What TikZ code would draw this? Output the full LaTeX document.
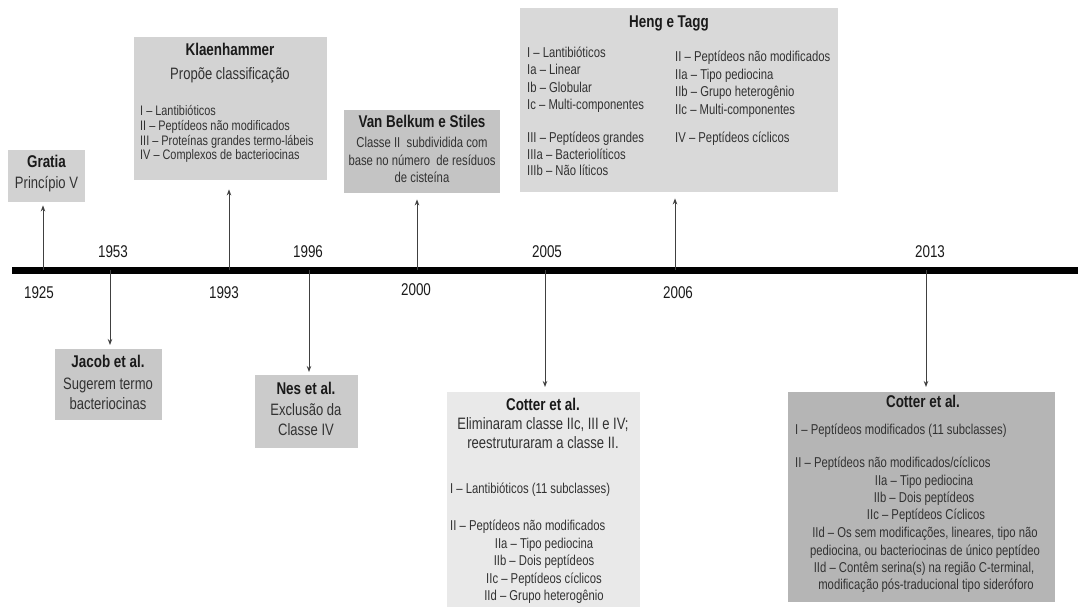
\documentclass[tikz,border=0pt]{standalone}
\usepackage{fontspec}
\setmainfont[FakeStretch=0.79]{Liberation Sans}
\usetikzlibrary{arrows.meta}
\newcommand\fitm{\fontsize{14.3}{16}\selectfont}
\newcommand\fitk{\fontsize{13.8}{15}\selectfont}
\newcommand\fttl{\fontsize{17}{18}\selectfont\bfseries}
\newcommand\fsub{\fontsize{16.5}{18}\selectfont}
\newcommand\fyr{\fontsize{17}{18}\selectfont}
\definecolor{itc}{HTML}{323232}
\definecolor{ttc}{HTML}{1A1A1A}
\definecolor{arc}{HTML}{404040}
\tikzset{
  box/.style={draw=none, inner sep=0, anchor=north west},
  itm/.style={font=\fitm, text=itc, inner sep=0, anchor=mid west},
  itmc/.style={font=\fitm, text=itc, inner sep=0, anchor=mid},
  itk/.style={font=\fitk, text=itc, inner sep=0, anchor=mid west},
  ttl/.style={font=\fttl, text=ttc, inner sep=0, anchor=mid},
  sub/.style={font=\fsub, text=itc, inner sep=0, anchor=mid},
  yr/.style={font=\fyr, text=ttc, inner sep=0, anchor=mid},
  arr/.style={draw=arc, line width=1pt, -{Stealth[length=6pt,width=4.5pt]}},
}
\begin{document}
\begin{tikzpicture}[x=1pt,y=-1pt]
\useasboundingbox (0,0) rectangle (1078,608);
% boxes
\node[box, fill={rgb,255:red,210;green,210;blue,210}, minimum width=77, minimum height=52] (gratia) at (8,150) {};
\node[box, fill={rgb,255:red,211;green,211;blue,211}, minimum width=193, minimum height=143] (klaen) at (134,37) {};
\node[box, fill={rgb,255:red,196;green,196;blue,196}, minimum width=156, minimum height=83] (vanb) at (344,110) {};
\node[box, fill={rgb,255:red,217;green,217;blue,217}, minimum width=318, minimum height=184] (heng) at (520,8) {};
\node[box, fill={rgb,255:red,200;green,200;blue,200}, minimum width=107, minimum height=71] (jacob) at (55,349) {};
\node[box, fill={rgb,255:red,203;green,203;blue,203}, minimum width=103, minimum height=73] (nes) at (255,375) {};
\node[box, fill={rgb,255:red,233;green,233;blue,233}, minimum width=193, minimum height=215] (cotA) at (447,392) {};
\node[box, fill={rgb,255:red,181;green,181;blue,181}, minimum width=267, minimum height=210] (cotB) at (788,392) {};
% timeline
\coordinate (ts) at (12,270);
\coordinate (te) at (1078,270);
\draw[line width=7pt, black] (ts) -- (te);
\coordinate (t1925) at (43,270);
\coordinate (t1953) at (110,270);
\coordinate (t1993) at (229,270);
\coordinate (t1996) at (309,270);
\coordinate (t2000) at (417,270);
\coordinate (t2005) at (545,270);
\coordinate (t2006) at (675,270);
\coordinate (t2013) at (926,270);
% arrows
\draw[arr, shorten >=3pt] (t1925) -- (t1925 |- gratia.south);
\draw[arr, shorten >=4pt] (t1953) -- (t1953 |- jacob.north);
\draw[arr, shorten >=9pt] (t1993) -- (t1993 |- klaen.south);
\draw[arr, shorten >=3pt] (t1996) -- (t1996 |- nes.north);
\draw[arr, shorten >=6pt] (t2000) -- (t2000 |- vanb.south);
\draw[arr, shorten >=5pt] (t2005) -- (t2005 |- cotA.north);
\draw[arr, shorten >=6pt] (t2006) -- (t2006 |- heng.south);
\draw[arr, shorten >=5pt] (t2013) -- (t2013 |- cotB.north);
% years
\node[yr] (y1925) at (39,296) {1925};
\node[yr] (y1953) at (113,255) {1953};
\node[yr] (y1993) at (224,296) {1993};
\node[yr] (y1996) at (308,255) {1996};
\node[yr] (y2000) at (416,293) {2000};
\node[yr] (y2005) at (547,255) {2005};
\node[yr] (y2006) at (678,296) {2006};
\node[yr] (y2013) at (930,255) {2013};
% Gratia
\node[ttl] (g1) at (46.5,165) {Gratia};
\node[sub] (g2) at (46.5,186) {Princípio V};
% Klaenhammer
\node[ttl] (k1) at (230,53) {Klaenhammer};
\node[sub] (k2) at (230,77) {Propõe classificação};
\node[itk] (k3) at (140,113) {I – Lantibióticos};
\node[itk] (k4) at (140,128) {II – Peptídeos não modificados};
\node[itk] (k5) at (140,143) {III – Proteínas grandes termo-lábeis};
\node[itk] (k6) at (140,157) {IV – Complexos de bacteriocinas};
% Van Belkum
\node[ttl] (v1) at (422,125) {Van Belkum e Stiles};
\node[itmc] (v2) at (422,145) {Classe II\ \ subdividida com};
\node[itmc] (v3) at (422,163) {base no número\ \ de resíduos};
\node[itmc] (v4) at (422,180) {de cisteína};
% Heng e Tagg
\node[ttl] (h0) at (669,25) {Heng e Tagg};
\node[itm] (h1) at (527,55) {I – Lantibióticos};
\node[itm] (h2) at (527,72) {Ia – Linear};
\node[itm] (h3) at (527,90) {Ib – Globular};
\node[itm] (h4) at (527,107) {Ic – Multi-componentes};
\node[itm] (h5) at (527,140) {III – Peptídeos grandes};
\node[itm] (h6) at (527,157) {IIIa – Bacteriolíticos};
\node[itm] (h7) at (527,173) {IIIb – Não líticos};
\node[itm] (h8) at (675,59) {II – Peptídeos não modificados};
\node[itm] (h9) at (675,77) {IIa – Tipo pediocina};
\node[itm] (h10) at (675,94) {IIb – Grupo heterogênio};
\node[itm] (h11) at (675,112) {IIc – Multi-componentes};
\node[itm] (h12) at (675,140) {IV – Peptídeos cíclicos};
% Jacob
\node[ttl] (j1) at (108,365) {Jacob et al.};
\node[sub] (j2) at (108,387) {Sugerem termo};
\node[sub] (j3) at (108,407) {bacteriocinas};
% Nes
\node[ttl] (n1) at (306,392) {Nes et al.};
\node[sub] (n2) at (306,413) {Exclusão da};
\node[sub] (n3) at (306,433) {Classe IV};
% Cotter 2005
\node[ttl] (a1) at (543,408) {Cotter et al.};
\node[sub] (a2) at (543,427) {Eliminaram classe IIc, III e IV;};
\node[sub] (a3) at (543,446) {reestruturaram a classe II.};
\node[itm] (a4) at (450,491) {I – Lantibióticos (11 subclasses)};
\node[itm] (a5) at (450,528) {II – Peptídeos não modificados};
\node[itmc] (a6) at (544,546) {IIa – Tipo pediocina};
\node[itmc] (a7) at (544,563) {IIb – Dois peptídeos};
\node[itmc] (a8) at (544,581) {IIc – Peptídeos cíclicos};
\node[itmc] (a9) at (544,598) {IId – Grupo heterogênio};
% Cotter 2013
\node[ttl] (b1) at (923,405) {Cotter et al.};
\node[itm] (b2) at (795,432) {I – Peptídeos modificados (11 subclasses)};
\node[itm] (b3) at (795,465) {II – Peptídeos não modificados/cíclicos};
\node[itmc] (b4) at (924,483) {IIa – Tipo pediocina};
\node[itmc] (b5) at (924,500) {IIb – Dois peptídeos};
\node[itmc] (b6) at (926,517) {IIc – Peptídeos Cíclicos};
\node[itmc] (b7) at (925,535) {IId – Os sem modificações, lineares, tipo não};
\node[itmc] (b8) at (925,553) {pediocina, ou bacteriocinas de único peptídeo};
\node[itmc] (b9) at (924,570) {IId – Contêm serina(s) na região C-terminal,};
\node[itmc] (b10) at (926,587) {modificação pós-traducional tipo sideróforo};
\end{tikzpicture}
\end{document}
